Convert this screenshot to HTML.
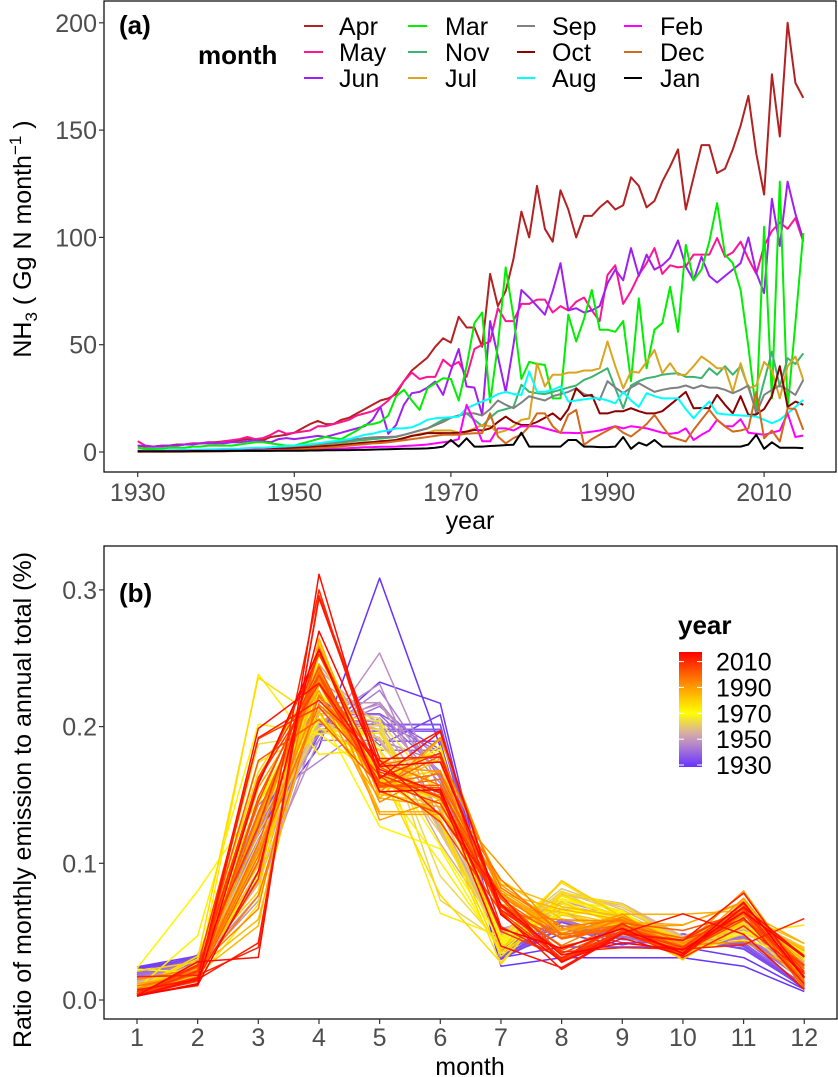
<!DOCTYPE html>
<html><head><meta charset="utf-8"><style>
html,body{margin:0;padding:0;background:#fff;}
svg{display:block;font-family:"Liberation Sans",Arial,sans-serif;}
.tick{fill:#4d4d4d;font-size:25px;}
.lg{fill:#000;font-size:25px;}
</style></head><body>
<svg id="chart" width="838" height="1077" viewBox="0 0 838 1077" xmlns="http://www.w3.org/2000/svg">
<defs>
<clipPath id="clipA"><rect x="104" y="1" width="732" height="471"/></clipPath>
<clipPath id="clipB"><rect x="104" y="546" width="733" height="473"/></clipPath>
<linearGradient id="cbar" x1="0" y1="1" x2="0" y2="0">
<stop offset="0" stop-color="#6633ff"/><stop offset="0.18" stop-color="#b080d0"/><stop offset="0.3" stop-color="#d8b0a0"/><stop offset="0.47" stop-color="#ffff00"/><stop offset="0.7" stop-color="#ff9900"/><stop offset="1" stop-color="#ff0000"/>
</linearGradient>
</defs>
<g>
<rect x="104" y="1" width="732" height="471" fill="#fff" stroke="#000" stroke-width="1.2"/>
<g id="aYTicks"></g>
<g id="aXTicks"></g>
<g id="aLines" clip-path="url(#clipA)"></g>
<text x="119" y="34" font-size="26" font-weight="bold">(a)</text>
<text x="470" y="529" font-size="25" text-anchor="middle">year</text>
<text transform="translate(31,239) rotate(-90)" font-size="25" text-anchor="middle">NH<tspan font-size="17" dy="6">3</tspan><tspan dy="-6"> ( Gg N month</tspan><tspan font-size="17" dy="-10">−1</tspan><tspan dy="10"> )</tspan></text>
<g>
<text x="198" y="64" font-size="26" font-weight="bold">month</text>
<g><line x1="304" y1="26" x2="323" y2="26" stroke="#B22222" stroke-width="2"/><text class="lg" x="339" y="35">Apr</text></g>
<g><line x1="304" y1="52" x2="323" y2="52" stroke="#FF1493" stroke-width="2"/><text class="lg" x="339" y="61">May</text></g>
<g><line x1="304" y1="78" x2="323" y2="78" stroke="#A020F0" stroke-width="2"/><text class="lg" x="339" y="87">Jun</text></g>
<g><line x1="408" y1="26" x2="427" y2="26" stroke="#00EE00" stroke-width="2"/><text class="lg" x="445" y="35">Mar</text></g>
<g><line x1="408" y1="52" x2="427" y2="52" stroke="#3CB371" stroke-width="2"/><text class="lg" x="445" y="61">Nov</text></g>
<g><line x1="408" y1="78" x2="427" y2="78" stroke="#DAA520" stroke-width="2"/><text class="lg" x="445" y="87">Jul</text></g>
<g><line x1="517" y1="26" x2="535" y2="26" stroke="#808080" stroke-width="2"/><text class="lg" x="552" y="35">Sep</text></g>
<g><line x1="517" y1="52" x2="535" y2="52" stroke="#8B0000" stroke-width="2"/><text class="lg" x="552" y="61">Oct</text></g>
<g><line x1="517" y1="78" x2="535" y2="78" stroke="#00FFFF" stroke-width="2"/><text class="lg" x="552" y="87">Aug</text></g>
<g><line x1="624" y1="26" x2="642" y2="26" stroke="#FF00FF" stroke-width="2"/><text class="lg" x="660" y="35">Feb</text></g>
<g><line x1="624" y1="52" x2="642" y2="52" stroke="#D2691E" stroke-width="2"/><text class="lg" x="660" y="61">Dec</text></g>
<g><line x1="624" y1="78" x2="642" y2="78" stroke="#000000" stroke-width="2"/><text class="lg" x="660" y="87">Jan</text></g>
</g>
</g>
<g>
<rect x="104" y="546" width="733" height="473" fill="#fff" stroke="#000" stroke-width="1.2"/>
<g id="bYTicks"></g>
<g id="bXTicks"></g>
<g id="bLines" clip-path="url(#clipB)"></g>
<text x="119" y="602" font-size="26" font-weight="bold">(b)</text>
<text x="470" y="1075" font-size="25" text-anchor="middle">month</text>
<text transform="translate(31,800) rotate(-90)" font-size="25" text-anchor="middle">Ratio of monthly emission to annual total (%)</text>
<g>
<text x="678" y="634" font-size="26" font-weight="bold">year</text>
<rect x="679" y="652" width="23" height="115" fill="url(#cbar)"/>
<g id="cbTicks"></g>
</g>
</g>
</svg>
<script>
const NS="http://www.w3.org/2000/svg";
const yearStart=1930, yearEnd=2015;
const aYTicks=[0,50,100,150,200];
const aXTicks=[1930,1950,1970,1990,2010];
const bYTicks=[0.0,0.1,0.2,0.3];
const bYTickLabels=["0.0","0.1","0.2","0.3"];
const months=[1,2,3,4,5,6,7,8,9,10,11,12];
const cbTicks=[1930,1950,1970,1990,2010];
// monthly NH3 (Gg N month^-1), 1930..2015
const jan=[0.3,0.3,0.3,0.3,0.3,0.3,0.3,0.4,0.4,0.4, 0.4,0.4,0.5,0.5,0.5,0.5,0.5,0.5,0.6,0.6, 0.6,0.6,0.7,0.7,0.8,0.8,0.9,0.9,1,1, 1.1,1.2,1.3,1.4,1.5,1.5,1.6,1.7,2,2.5, 5.6,2.5,6.4,2.5,2.5,2.8,3,3.2,3.4,9, 2.5,2.5,2.5,2.5,2.5,5.6,5.6,2.5,2.5,2.3, 2.3,2.5,7,1.5,4.4,3,5.6,2.5,2.5,2.5, 2.5,2.5,2.5,2.5,2.5,2.5,2.5,2.5,3.5,8, 1.5,4.5,2,2,2,1.8];
const feb=[0.5,0.4,0.4,0.4,0.5,0.5,0.5,0.5,0.6,0.6, 0.6,0.7,0.7,0.7,0.8,0.8,0.9,0.9,1,1, 1,1.1,1.2,1.3,1.4,1.5,1.6,1.8,2,2.2, 2.3,2.4,2.4,2.5,2.8,3,3.2,3.5,4,4.5, 5,6,22,14,5,5,11,11,10,12, 12,12,11,10,9,9,8.8,9,9.5,10, 11,12,11,12,11.5,11,10,9,8.5,9, 11,5.6,8,10,15,12,12,15.3,9,8.5, 8,9,10,18,7,7.7];
const mar=[2,1.5,1.5,1.5,2,2,2,2.5,2.5,3, 3,3,3,3.5,4,4.5,4.5,4,3.5,3, 3,4,5,6,7,6.5,6,8,10,12.6, 13,14,17,26,29,24,19.6,29.7,32,34.4, 34,24,40,60,65,23,50,86,63,34, 42,41,40.6,25,25,64,51.5,62,75.5,57, 57,56,61,33,71.6,39,57,60,77,56, 96.5,80,85,98,116,92,88,75.5,49,18, 105,25,126,20,60,102];
const apr=[3,2.5,2.5,3,3,3.5,3.5,4,4,4.5, 4.5,5,5,5.5,6,6,5.5,7,7.5,8, 9,11,13,14.5,13,13,15,16,18,20, 22,24,25,27,33,38,41,44,49,53, 51,63,58,58,49,83,68,75,90,112, 100,124,104,98,122,113,100,110,110,114, 117,113,115,128,124,114,117,126,133,141, 113,128,143,143,130,132,141,152,166,139, 120,176,147,200,172,165];
const may=[5,3,2.5,2.5,3,3,3.5,4,4,4.5, 4,5,5.5,6,7,6,6.5,8,10,8.5, 9,9.5,10,12,12,13,14,15,17,18, 19,21,24,28,33,37,34,35,35,43, 40,42,35,48,50,51.5,67,61,61,69, 69,71,71,65,68,66,70,72,66,61, 82.5,87,69,75,82.5,88,95,83,87,86, 86.5,92,92,92,99.7,91,93,98,90,83, 96,103,107,104,109,98];
const jun=[3,2.8,2.5,2.8,3,3,3.5,3.5,4,4, 4,4,4.5,4.5,5,5.5,5,4.5,6,6.5, 6,6.5,7,7.5,7,8,9,10,11,12, 15,21,8.5,12.6,22,27.4,28,30,32.8,26.6, 38,48,30.5,30,17.3,61,44.5,28,50,75.5, 72,68,64,75,88,66,67,65,66,68, 78.6,85,80,95,82,92,85,87,90.5,98.6, 86.5,80,91,82,79,82,85,88,100,83.5, 74,118,96,126,111,99];
const jul=[0.4,0.4,0.4,0.4,0.5,0.5,0.6,0.6,0.7,0.8, 0.8,0.9,1,1.1,1.3,1.4,1.5,1.8,2,2, 2,2.2,2.5,2.8,3,3.2,3.5,3.8,4,4.5, 4.5,5,5,5.6,6.5,7.5,8.5,9,10,10, 10,9,9.5,11,12.6,12,9,10,12,15, 15.6,41.4,30.5,36,36,37,37,38,38,39, 51.5,40,29.7,37.5,37,42,47.6,36.7,41.4,36, 36,40,44.5,42,39,39,28,41.4,29.7,31, 42,38,25,40,44.5,33.6];
const aug=[0.5,0.5,0.6,0.7,0.8,0.9,1,1,1.1,1.2, 1.3,1.4,1.5,1.6,1.8,2,2,2.2,2.5,2.8, 3,3.3,3.6,4,4.5,5,5.5,6,7,8, 8.5,9.5,10,11,11,11.5,13,15,15.7,16, 16.2,16.5,20.4,22,23.5,25,27,28,27,26.6, 37.5,28,28,29,30.5,23.5,24,24.5,25,25, 24,22.7,28,24,21,27.4,26,25,25,25, 20,15.7,20,23.5,18,17.5,17.3,17,16.8,16.5, 15,13.4,15,18,21,24.3];
const sep=[0.5,0.5,0.5,0.6,0.7,0.7,0.8,0.8,0.9,1, 1,1.1,1.2,1.3,1.4,1.5,1.6,1.8,2,2.2, 2.5,2.8,3.2,3.6,4,4.5,5,5.5,6,6.5, 6.8,7,7,7.2,8,9,10,11,12.5,14, 16,17,18,18,17,20,24,22,20.4,23, 26,25,24,26,27,28,29.7,27,26,24.3, 33,30,27.4,30,32,30,28,29,29.7,30, 31,29.7,31,30,30,29,27.4,29,31,18, 26.6,29,31,29,26.6,33.6];
const oct=[0.5,0.5,0.6,0.6,0.7,0.7,0.8,0.8,0.9,0.9, 1,1,1.1,1.1,1.2,1.3,1.3,1.4,1.5,1.6, 1.8,2,2.2,2.5,2.8,3,3.3,3.6,4,4.3, 4.6,5,5.2,5.6,6.5,7.5,8,8.8,8.8,8.8, 8.8,9,9.5,10.3,10,11,14,16.5,14,12.6, 12.6,14,16,18,15,20,29.7,26,26.6,18, 18,19,19,20.4,19,18,18,19,22,25, 28,20.4,20.5,20.4,26.6,22,18,26,17.3,17.5, 20,26,40,21,23.5,22];
const nov=[0.4,0.4,0.5,0.5,0.6,0.6,0.7,0.8,0.9,0.9, 1,1.1,1.2,1.3,1.4,1.5,1.6,1.8,2,2.2, 2.4,2.7,3,3.3,3.6,4,4.4,4.8,5.2,5.6, 6,6.3,6.6,7,8,9,10,11,13,15, 16,17,18,15,12,16,19,20,21,31.3, 28,27.4,27,28,29,30,31,33.6,35,37, 39,29.7,20.4,31,33,34.4,35,36,36.5,36.7, 35,35,34.4,39,36,40,36,40,30,19, 33,46.8,30.5,43.7,41,46];
const dec=[0.1,0.1,0.1,0.12,0.15,0.15,0.18,0.2,0.2,0.25, 0.3,0.35,0.4,0.45,0.5,0.6,0.6,0.7,0.8,0.9, 1.1,1.3,1.5,1.8,2,2.3,2.6,3,3.3,3.6, 4,4.2,4.5,5,5.5,6,6.5,7,7.5,8, 8,8,8.5,8.7,8.8,18,7.2,4,6.5,8, 12,18,18,12,8.8,17.3,19.6,3.3,6,8, 10,11.9,9,7.2,10,13,17.3,12,7.2,6, 4.9,10.3,15,19.6,15,11.9,9.5,10,11,28, 6.4,10,4.9,20.4,20,10.3];

const monthSeries=[jan,feb,mar,apr,may,jun,jul,aug,sep,oct,nov,dec];
const monthColors=["#000000","#FF00FF","#00EE00","#B22222","#FF1493","#A020F0","#DAA520","#00FFFF","#808080","#8B0000","#3CB371","#D2691E"];
const monthNames=["jan","feb","mar","apr","may","jun","jul","aug","sep","oct","nov","dec"];

// axes
const ax=y=>137.7+(y-1930)*7.83;
const ay=v=>452-v*2.146;
const bx=m=>137+(m-1)*60.66;
const by=v=>1000-v*1367;

function mk(tag,attrs,parent){const e=document.createElementNS(NS,tag);for(const k in attrs)e.setAttribute(k,attrs[k]);parent.appendChild(e);return e;}

const gAY=document.getElementById('aYTicks');
aYTicks.forEach(t=>{
  const l=mk('line',{x1:99,x2:104,y1:ay(t),y2:ay(t),stroke:'#333','stroke-width':1.2},gAY);
  
  
  const tx=mk('text',{x:97,y:ay(t)+9,'text-anchor':'end',class:'tick'},gAY);tx.textContent=t;
  
  
});
const gAX=document.getElementById('aXTicks');
aXTicks.forEach(t=>{
  const l=mk('line',{x1:ax(t),x2:ax(t),y1:472,y2:477,stroke:'#333','stroke-width':1.2},gAX);
  
  
  const tx=mk('text',{x:ax(t),y:501,'text-anchor':'middle',class:'tick'},gAX);tx.textContent=t;
  
  
});
const gAL=document.getElementById('aLines');
const drawOrder=[3,4,5,2,10,6,8,9,7,1,11,0];
drawOrder.forEach(i=>{
  const s=monthSeries[i];
  const pts=s.map((v,k)=>ax(yearStart+k).toFixed(1)+','+ay(v).toFixed(1)).join(' ');
  const p=mk('polyline',{points:pts,fill:'none',stroke:monthColors[i],'stroke-width':2,'stroke-linejoin':'round'},gAL);
  
  
});

const gBY=document.getElementById('bYTicks');
bYTicks.forEach((t,i)=>{
  const l=mk('line',{x1:99,x2:104,y1:by(t),y2:by(t),stroke:'#333','stroke-width':1.2},gBY);
  
  
  const tx=mk('text',{x:97,y:by(t)+9,'text-anchor':'end',class:'tick'},gBY);tx.textContent=bYTickLabels[i];
  
  
});
const gBX=document.getElementById('bXTicks');
months.forEach(m=>{
  const l=mk('line',{x1:bx(m),x2:bx(m),y1:1019,y2:1024,stroke:'#333','stroke-width':1.2},gBX);
  
  
  const tx=mk('text',{x:bx(m),y:1046,'text-anchor':'middle',class:'tick'},gBX);tx.textContent=m;
  
  
});
const stops=[[1930,[102,51,255]],[1945,[176,128,208]],[1955,[216,176,160]],[1970,[255,255,0]],[1990,[255,153,0]],[2015,[255,0,0]]];
function yearColor(y){
  for(let i=0;i<stops.length-1;i++){const a=stops[i],b=stops[i+1];
    if(y<=b[0]){const t=(y-a[0])/(b[0]-a[0]);const c=a[1].map((v,k)=>Math.round(v+(b[1][k]-v)*t));return 'rgb('+c.join(',')+')';}}
  return 'rgb(255,0,0)';
}
const gBL=document.getElementById('bLines');
for(let k=0;k<=yearEnd-yearStart;k++){
  const vals=monthSeries.map(s=>s[k]);
  const tot=vals.reduce((a,b)=>a+b,0);
  const pts=vals.map((v,m)=>bx(m+1).toFixed(1)+','+by(v/tot).toFixed(1)).join(' ');
  const p=mk('polyline',{points:pts,fill:'none',stroke:yearColor(yearStart+k),'stroke-width':1.5,'stroke-linejoin':'round'},gBL);
  
  
}
const cby=y=>765-(y-1930)*1.2925;
const gCB=document.getElementById('cbTicks');
cbTicks.forEach(t=>{
  const l1=mk('line',{x1:679,x2:684,y1:cby(t),y2:cby(t),stroke:'#fff','stroke-width':1},gCB);
  
  
  const l2=mk('line',{x1:697,x2:702,y1:cby(t),y2:cby(t),stroke:'#fff','stroke-width':1},gCB);
  
  
  const tx=mk('text',{x:716,y:cby(t)+9,fill:'#000','font-size':25},gCB);tx.textContent=t;
  
  
});
</script>
</body></html>
